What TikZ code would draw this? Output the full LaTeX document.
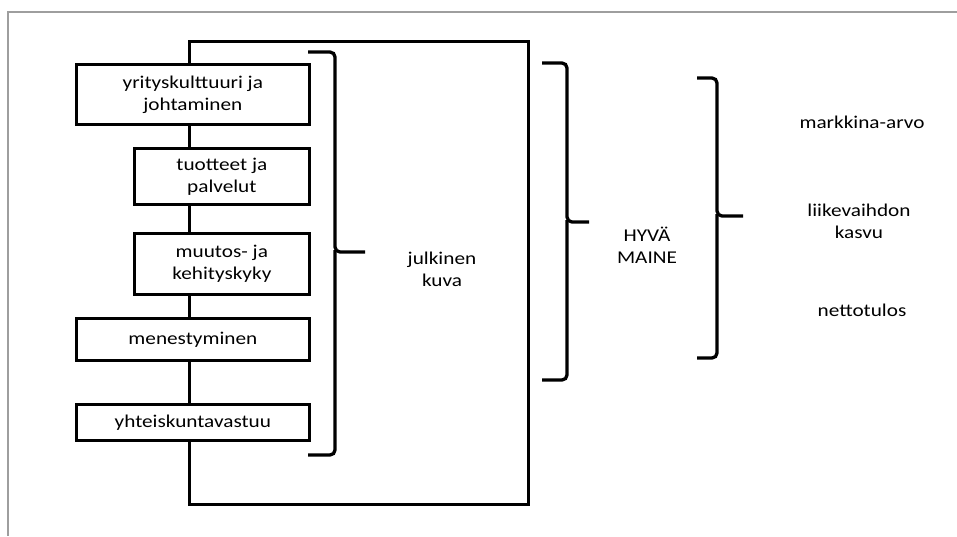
\documentclass[tikz,border=0pt]{standalone}
\usepackage{fontspec}
\setmainfont{Carlito}[FakeStretch=1.18]
\begin{document}
\begin{tikzpicture}[x=1pt,y=-1pt,
  lbl/.style={font=\fontsize{18pt}{22pt}\selectfont, align=center, inner sep=0pt},
  factor/.style={lbl, draw=black, line width=2.7pt, fill=white, anchor=north west},
  brace/.style={line width=3.3pt, rounded corners=5pt, line cap=butt},
  framecol/.style={draw=black!38, line width=1.8pt}]
\useasboundingbox (0,0) rectangle (957,536);
\fill[white] (0,0) rectangle (957,536);
% outer page frame
\draw[framecol] (957,12) -- (8,12) -- (8,536);
% big rectangle (public image)
\node[draw=black, line width=2.6pt, minimum width=339pt, minimum height=463pt, inner sep=0pt, anchor=north west] (outer) at (188,40) {};
% factor boxes
\node[factor, minimum width=233pt, minimum height=60pt] (b1) at (75,63) {yrityskulttuuri ja\\johtaminen};
\node[factor, minimum width=175pt, minimum height=56pt] (b2) at (133,147) {tuotteet ja\\palvelut};
\node[factor, minimum width=175pt, minimum height=61pt] (b3) at (133,232) {muutos- ja\\kehityskyky};
\node[factor, minimum width=233pt, minimum height=42pt] (b4) at (75,317) {menestyminen};
\node[factor, minimum width=233pt, minimum height=36pt] (b5) at (75,403) {yhteiskuntavastuu};
% brace 1
\coordinate (p1t) at (308,52);
\coordinate (p1b) at (308,455);
\coordinate (p1m) at (365,252);
\draw[brace] (p1t) -- (335,52) -- (335,252) -- (p1m);
\draw[brace] (335,250) -- (335,455) -- (p1b);
\node[lbl] (jk) at (442,269) {julkinen\\kuva};
% brace 2
\coordinate (p2t) at (542,63);
\coordinate (p2b) at (542,380);
\coordinate (p2m) at (589,222);
\draw[brace] (p2t) -- (567,63) -- (567,222) -- (p2m);
\draw[brace] (567,220) -- (567,380) -- (p2b);
\node[lbl] (hm) at (647,245) {HYVÄ\\MAINE};
% brace 3
\coordinate (p3t) at (697,78);
\coordinate (p3b) at (697,358);
\coordinate (p3m) at (743,216);
\draw[brace] (p3t) -- (717,78) -- (717,216) -- (p3m);
\draw[brace] (717,214) -- (717,358) -- (p3b);
\node[lbl] (ma) at (862,122) {markkina-arvo};
\node[lbl] (lk) at (859,221) {liikevaihdon\\kasvu};
\node[lbl] (nt) at (862,310) {nettotulos};
\end{tikzpicture}
\end{document}
